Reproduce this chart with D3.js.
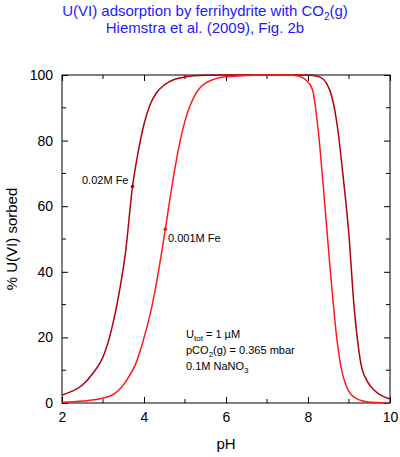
<!DOCTYPE html>
<html>
<head>
  <script src="https://d3js.org/d3.v7.min.js"></script>
  <style>
    body { margin: 0; background: white; }
    text { font-family: "Liberation Sans", Arial, sans-serif; }
  </style>
</head>
<body>
<svg id="chart" width="400" height="457"></svg>
<script>
  // 0.02M Fe (dark red)
  var phHigh = [2, 2.25, 2.5, 2.75, 3.0, 3.2, 3.4, 3.55, 3.72, 3.85, 4.0, 4.15, 4.3, 4.5, 4.75, 5.0, 5.5, 6, 7, 7.8, 8.05, 8.26, 8.45, 8.59, 8.72, 8.84, 9.0, 9.12, 9.2, 9.29, 9.45, 9.65, 10];
  var sorbHigh = [2.4, 3.6, 5.5, 9, 14, 22, 34, 46, 66, 76, 85, 91, 94.5, 97, 98.7, 99.4, 99.9, 100, 100, 100, 99.9, 99.5, 97.5, 93, 84, 71, 51, 30, 20, 12, 6.5, 3.5, 1.2];
  // 0.001M Fe (red)
  var phLow = [2, 2.5, 3.0, 3.3, 3.58, 3.8, 3.98, 4.15, 4.31, 4.52, 4.68, 4.85, 5.0, 5.25, 5.5, 6, 7, 7.6, 7.8, 7.95, 8.11, 8.25, 8.36, 8.54, 8.7, 8.82, 8.94, 9.1, 9.43, 10];
  var sorbLow = [0.2, 0.6, 1.5, 3, 7, 12, 19, 27, 37, 53, 66, 78, 86, 94, 97.5, 99.5, 100, 100, 99.5, 98.5, 95.5, 83, 68, 41, 20, 10, 5, 2, 0.4, 0];
  var xTicks = [2, 4, 6, 8, 10];
  var yTicks = [0, 20, 40, 60, 80, 100];

  var svg = d3.select("#chart");
  var x = d3.scaleLinear([2, 10], [62, 390]);
  var y = d3.scaleLinear([0, 100], [403, 75]);

  // titles
  var t1 = svg.append("text").attr("x", 205).attr("y", 16).attr("text-anchor", "middle")
    .attr("fill", "#1a1aff").attr("font-size", 15);
  t1.append("tspan").text("U(VI) adsorption by ferrihydrite with CO");
  t1.append("tspan").attr("font-size", 10).attr("dy", 4).text("2");
  t1.append("tspan").attr("dy", -4).text("(g)");
  svg.append("text").attr("x", 205).attr("y", 33).attr("text-anchor", "middle")
    .attr("fill", "#1a1aff").attr("font-size", 15).text("Hiemstra et al. (2009), Fig. 2b");

  // axes with inward ticks
  var ax = d3.axisBottom(x).tickValues(xTicks).tickSize(-6).tickPadding(9);
  var ay = d3.axisLeft(y).tickValues(yTicks).tickSize(-6).tickPadding(9);
  var gx = svg.append("g").attr("transform", "translate(0,403)").call(ax);
  var gy = svg.append("g").attr("transform", "translate(62,0)").call(ay);
  [gx, gy].forEach(g => {
    g.select(".domain").remove();
    g.selectAll("text").attr("font-size", 14).attr("fill", "#000")
      .style("font-family", "Liberation Sans, Arial, sans-serif");
  });
  var gx2 = svg.append("g").attr("transform", "translate(0,75)").call(d3.axisTop(x).tickValues(xTicks).tickSize(-6).tickFormat(""));
  var gy2 = svg.append("g").attr("transform", "translate(390,0)").call(d3.axisRight(y).tickValues(yTicks).tickSize(-6).tickFormat(""));
  // minor ticks
  var xMinor = d3.range(3, 10, 2), yMinor = d3.range(10, 100, 20);
  [[403, -4], [75, 4]].forEach(([yy, d]) => {
    svg.selectAll(null).data(xMinor).join("line")
      .attr("x1", v => x(v)).attr("x2", v => x(v)).attr("y1", yy).attr("y2", yy + d).attr("stroke", "#000");
  });
  [[62, 4], [390, -4]].forEach(([xx, d]) => {
    svg.selectAll(null).data(yMinor).join("line")
      .attr("y1", v => y(v)).attr("y2", v => y(v)).attr("x1", xx).attr("x2", xx + d).attr("stroke", "#000");
  });
  [gx2, gy2].forEach(g => g.select(".domain").remove());
  svg.append("rect").attr("x", 62).attr("y", 75).attr("width", 328).attr("height", 328)
    .attr("fill", "none").attr("stroke", "#000").attr("stroke-width", 1);

  // curves
  var line = d3.line().x(d => x(d[0])).y(d => y(d[1])).curve(d3.curveMonotoneX);
  svg.append("path").datum(d3.zip(phHigh, sorbHigh)).attr("d", line)
    .attr("fill", "none").attr("stroke", "#b00010").attr("stroke-width", 1.5);
  svg.append("path").datum(d3.zip(phLow, sorbLow)).attr("d", line)
    .attr("fill", "none").attr("stroke", "#ff1a1a").attr("stroke-width", 1.5);
  svg.append("circle").attr("cx", x(3.72)).attr("cy", y(66)).attr("r", 1.8).attr("fill", "#b00010");
  svg.append("circle").attr("cx", x(4.52)).attr("cy", y(53)).attr("r", 1.8).attr("fill", "#ff1a1a");

  // labels
  svg.append("text").attr("x", 82).attr("y", 184).attr("font-size", 11).text("0.02M Fe");
  svg.append("text").attr("x", 168).attr("y", 242).attr("font-size", 11).text("0.001M Fe");
  var a1 = svg.append("text").attr("x", 186).attr("y", 338).attr("font-size", 11);
  a1.append("tspan").text("U");
  a1.append("tspan").attr("font-size", 8).attr("dy", 3).text("tot");
  a1.append("tspan").attr("dy", -3).text(" = 1 \u00b5M");
  var a2 = svg.append("text").attr("x", 186).attr("y", 354).attr("font-size", 11);
  a2.append("tspan").text("pCO");
  a2.append("tspan").attr("font-size", 8).attr("dy", 3).text("2");
  a2.append("tspan").attr("dy", -3).text("(g) = 0.365 mbar");
  var a3 = svg.append("text").attr("x", 186).attr("y", 370).attr("font-size", 11);
  a3.append("tspan").text("0.1M NaNO");
  a3.append("tspan").attr("font-size", 8).attr("dy", 3).text("3");

  svg.append("text").attr("x", 226).attr("y", 449).attr("text-anchor", "middle").attr("font-size", 15).text("pH");
  svg.append("text").attr("transform", "translate(17,239) rotate(-90)").attr("text-anchor", "middle")
    .attr("font-size", 15).text("% U(VI) sorbed");
</script>
</body>
</html>
